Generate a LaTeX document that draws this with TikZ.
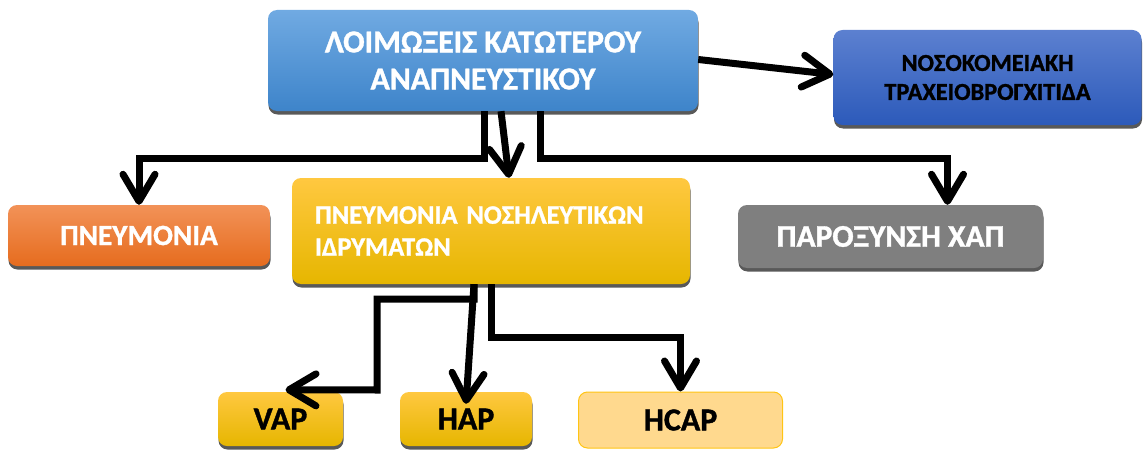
\documentclass[tikz,border=0pt]{standalone}
\usepackage{fontspec}
\setmainfont{Carlito}[BoldFont={Carlito Bold}, BoldFeatures={FakeBold=1.2}]
\usetikzlibrary{arrows.meta,shadows,calc}
\definecolor{blueT}{RGB}{112,170,226}
\definecolor{blueB}{RGB}{62,132,202}
\definecolor{navyT}{RGB}{92,128,208}
\definecolor{navyB}{RGB}{44,90,186}
\definecolor{orT}{RGB}{242,146,88}
\definecolor{orB}{RGB}{230,108,30}
\definecolor{goT}{RGB}{255,200,64}
\definecolor{goB}{RGB}{230,182,0}
\definecolor{grayF}{RGB}{127,127,127}
\definecolor{hcF}{RGB}{255,217,142}
\definecolor{hcD}{RGB}{255,196,20}
\tikzset{
  box/.style={rounded corners=9pt, minimum width=#1, inner sep=0pt, align=center,
    drop shadow={shadow xshift=0.5pt, shadow yshift=-3.5pt, fill=black!65, opacity=1}},
  arr/.style={line width=7pt, -{Straight Barb[length=27pt,width=32pt,round]}}
}
\begin{document}
\begin{tikzpicture}[x=1pt,y=-1pt]
\useasboundingbox (0,0) rectangle (1145,452);
\node[box=430pt, minimum height=101pt, top color=blueT, bottom color=blueB, text=white,
  font=\fontsize{31.8}{37}\selectfont\bfseries] (top) at (483,60.5) {ΛΟΙΜΩΞΕΙΣ ΚΑΤΩΤΕΡΟΥ\\ΑΝΑΠΝΕΥΣΤΙΚΟΥ};
\node[box=308pt, minimum height=95pt, top color=navyT, bottom color=navyB, text=black,
  font=\fontsize{24.3}{29}\selectfont\bfseries] (noso) at (987.5,77.5) {ΝΟΣΟΚΟΜΕΙΑΚΗ\\ΤΡΑΧΕΙΟΒΡΟΓΧΙΤΙΔΑ};
\node[box=262pt, minimum height=61pt, top color=orT, bottom color=orB, text=white,
  font=\fontsize{29.3}{32}\selectfont\bfseries] (pneum) at (139,235.5) {ΠΝΕΥΜΟΝΙΑ};
\node[box=398pt, minimum height=106pt, top color=goT, bottom color=goB, text=white,
  text width=352pt, align=left,
  font=\fontsize{26.5}{32}\selectfont\bfseries] (pny) at (491,231) {ΠΝΕΥΜΟΝΙΑ ΝΟΣΗΛΕΥΤΙΚΩΝ\\ΙΔΡΥΜΑΤΩΝ};
\node[box=305pt, minimum height=63pt, top color=grayF, bottom color=grayF, text=white,
  font=\fontsize{31.5}{34}\selectfont\bfseries] (xap) at (890.5,236.5) {ΠΑΡΟΞΥΝΣΗ ΧΑΠ};
\node[box=125pt, minimum height=54pt, top color=goT, bottom color=goB, text=black,
  font=\fontsize{32}{36}\selectfont\bfseries] (vap) at (280.5,419) {VAP};
\node[box=132pt, minimum height=54pt, top color=goT, bottom color=goB, text=black,
  font=\fontsize{32}{36}\selectfont\bfseries] (hap) at (466,419) {HAP};
\node[rounded corners=9pt, minimum width=204pt, minimum height=56pt, inner sep=0pt,
  fill=hcF, draw=hcD, line width=1pt, text=black,
  font=\fontsize{32}{36}\selectfont\bfseries] (hcap) at (680.5,420) {HCAP};
% connectors from top
\draw[arr] ([xshift=1pt]top.south) -- ++(0,47) -| (pneum.north);
\draw[arr] ([xshift=18pt]top.south) -- ([xshift=18pt]pny.north);
\draw[arr] ([xshift=57pt]top.south) -- ++(0,47) -| ([xshift=57pt]xap.north);
\draw[arr] ([yshift=1pt]top.east) -- ([yshift=3pt]noso.west);
% connectors from pny
\draw[arr] ([xshift=-17pt]pny.south) -- ++(0,15) -| (377,390) -- ([xshift=5pt,yshift=2pt]vap.north);
\draw[arr] ([xshift=-17pt]pny.south) -- ([yshift=-12pt]hap.north);
\draw[arr] (pny.south) -- ++(0,53) -| (hcap.north);
\end{tikzpicture}
\end{document}
